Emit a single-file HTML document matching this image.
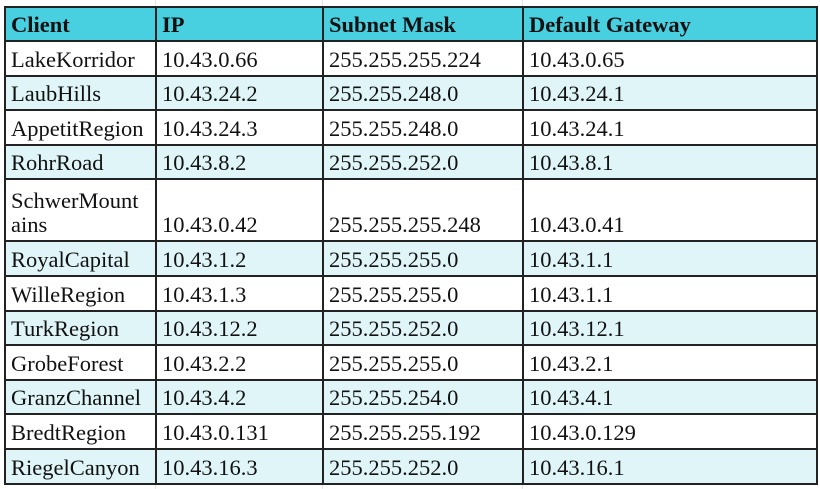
<!DOCTYPE html>
<html><head><meta charset="utf-8"><style>
html,body{margin:0;padding:0;background:#fff;width:820px;height:489px;overflow:hidden}
.grid{position:absolute;top:0;width:1px;height:489px;background:#e4e4e4}
table{position:absolute;left:4px;top:6px;border-collapse:collapse;table-layout:fixed;font-family:"Liberation Serif",serif;font-size:22.5px;color:#111}
td,th{border:2px solid #222;padding:0 0 0 5px;text-align:left;vertical-align:bottom;white-space:nowrap;overflow:hidden;line-height:24px;padding-bottom:3px}
th{background:#48cfe0;font-weight:bold;height:29px;padding-bottom:3px}
tr.d td{height:29.6px}
tr.alt td{background:#dff5f8}
tr.tall td{height:57px}
</style></head><body>
<div class="grid" style="left:155px"></div>
<div class="grid" style="left:322px"></div>
<div class="grid" style="left:522px"></div>
<table>
<colgroup><col style="width:151px"><col style="width:167px"><col style="width:200px"><col style="width:294px"></colgroup>
<tr><th>Client</th><th>IP</th><th>Subnet Mask</th><th>Default Gateway</th></tr>
<tr class="d"><td>LakeKorridor</td><td>10.43.0.66</td><td>255.255.255.224</td><td>10.43.0.65</td></tr>
<tr class="d alt"><td>LaubHills</td><td>10.43.24.2</td><td>255.255.248.0</td><td>10.43.24.1</td></tr>
<tr class="d"><td>AppetitRegion</td><td>10.43.24.3</td><td>255.255.248.0</td><td>10.43.24.1</td></tr>
<tr class="d alt"><td>RohrRoad</td><td>10.43.8.2</td><td>255.255.252.0</td><td>10.43.8.1</td></tr>
<tr class="tall"><td>SchwerMount<br>ains</td><td>10.43.0.42</td><td>255.255.255.248</td><td>10.43.0.41</td></tr>
<tr class="d alt"><td>RoyalCapital</td><td>10.43.1.2</td><td>255.255.255.0</td><td>10.43.1.1</td></tr>
<tr class="d"><td>WilleRegion</td><td>10.43.1.3</td><td>255.255.255.0</td><td>10.43.1.1</td></tr>
<tr class="d alt"><td>TurkRegion</td><td>10.43.12.2</td><td>255.255.252.0</td><td>10.43.12.1</td></tr>
<tr class="d"><td>GrobeForest</td><td>10.43.2.2</td><td>255.255.255.0</td><td>10.43.2.1</td></tr>
<tr class="d alt"><td>GranzChannel</td><td>10.43.4.2</td><td>255.255.254.0</td><td>10.43.4.1</td></tr>
<tr class="d"><td>BredtRegion</td><td>10.43.0.131</td><td>255.255.255.192</td><td>10.43.0.129</td></tr>
<tr class="d alt"><td>RiegelCanyon</td><td>10.43.16.3</td><td>255.255.252.0</td><td>10.43.16.1</td></tr>
</table>
</body></html>
